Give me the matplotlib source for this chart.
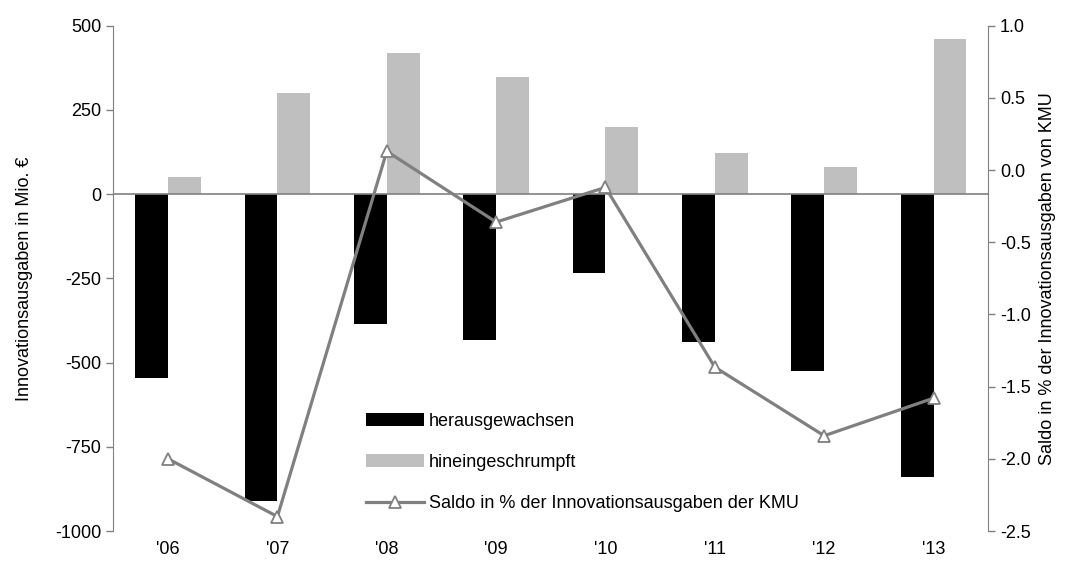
import numpy as np
import matplotlib.pyplot as plt

plt.rcParams['font.family'] = ['Liberation Sans', 'DejaVu Sans']
plt.rcParams['axes.unicode_minus'] = False

years = ["'06", "'07", "'08", "'09", "'10", "'11", "'12", "'13"]
herausgewachsen = [-545, -910, -385, -433, -235, -440, -525, -840]
hineingeschrumpft = [50, 300, 418, 347, 199, 122, 80, 460]
saldo = [-2.00, -2.40, 0.13, -0.36, -0.12, -1.365, -1.84, -1.58]

axis_grey = '#808080'
fs = 13

fig, ax = plt.subplots(figsize=(10.8, 5.71), dpi=100)
fig.subplots_adjust(left=0.105, right=0.915, top=0.955, bottom=0.07)

x = np.arange(len(years))
w = 0.3
ax.bar(x - w / 2, herausgewachsen, width=w, color='black', label='herausgewachsen', zorder=2)
ax.bar(x + w / 2, hineingeschrumpft, width=w, color='#bfbfbf', label='hineingeschrumpft', zorder=2)
ax.axhline(0, color=axis_grey, lw=1.2, zorder=3)

ax.set_xlim(-0.5, len(years) - 0.5)
ax.set_ylim(-1000, 500)
ax.set_yticks(np.arange(-1000, 501, 250))
ax.set_xticks(x)
ax.set_xticklabels(years)
ax.set_ylabel('Innovationsausgaben in Mio. €', fontsize=fs, labelpad=16)
ax.tick_params(axis='y', labelsize=fs, color=axis_grey, length=5, width=1)
ax.tick_params(axis='x', labelsize=fs, length=0, pad=7)
for side in ['top', 'right', 'bottom']:
    ax.spines[side].set_visible(False)
ax.spines['left'].set_color(axis_grey)

ax2 = ax.twinx()
ax2.plot(x, saldo, color=axis_grey, lw=2.3, marker='^', markersize=9,
         markerfacecolor='white', markeredgecolor=axis_grey, markeredgewidth=1.3,
         label='Saldo in % der Innovationsausgaben der KMU', zorder=4)
ax2.set_ylim(-2.5, 1.0)
ax2.set_yticks(np.arange(-2.5, 1.01, 0.5))
ax2.set_yticklabels([f'{v:.1f}' for v in np.arange(-2.5, 1.01, 0.5)])
ax2.set_ylabel('Saldo in % der Innovationsausgaben von KMU', fontsize=fs, labelpad=6)
ax2.tick_params(axis='y', labelsize=fs, color=axis_grey, length=5, width=1)
for side in ['top', 'left', 'bottom']:
    ax2.spines[side].set_visible(False)
ax2.spines['right'].set_color(axis_grey)

h1, l1 = ax.get_legend_handles_labels()
h2, l2 = ax2.get_legend_handles_labels()
ax2.legend(h1 + h2, l1 + l2, loc='lower left', bbox_to_anchor=(0.27, 0.005),
           frameon=False, fontsize=fs, handlelength=3.2, handletextpad=0.3,
           labelspacing=1.35)

fig.savefig('out.png', dpi=100)
